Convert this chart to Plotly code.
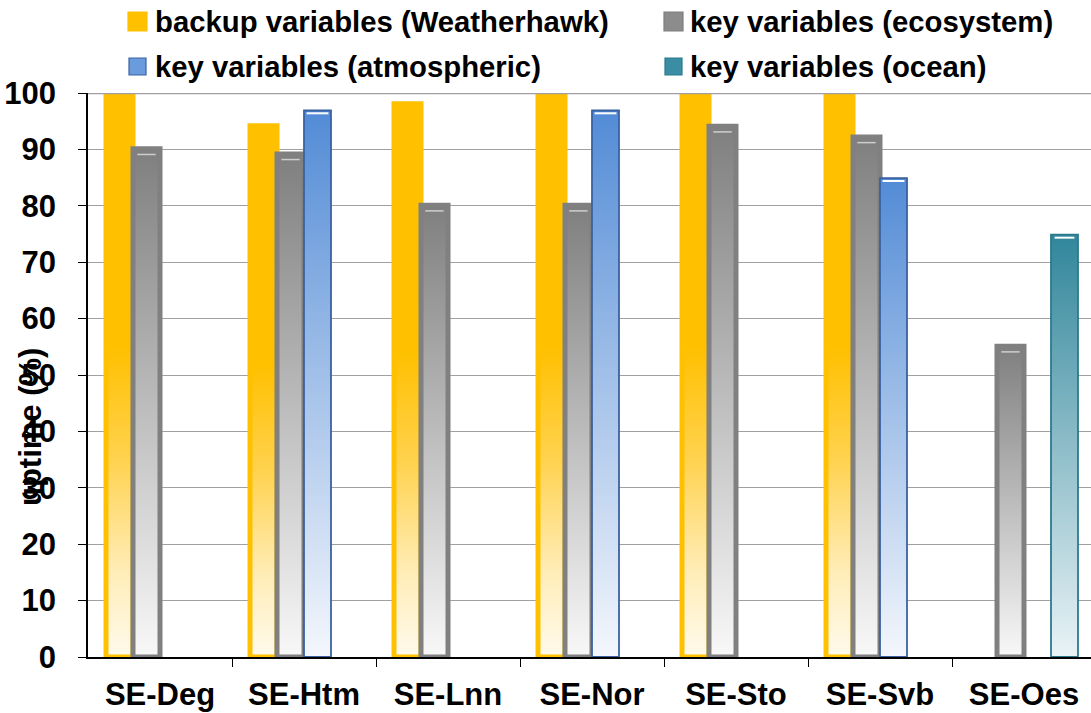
import plotly.graph_objects as go

# ---------------- data ----------------
categories = ["SE-Deg", "SE-Htm", "SE-Lnn", "SE-Nor", "SE-Sto", "SE-Svb", "SE-Oes"]
backup_weatherhawk = [100, 94.2, 98.1, 100, 100, 100, None]
key_ecosystem = [90.1, 89.2, 80.1, 80.1, 94.1, 92.2, 55.1]
key_atmospheric = [None, 96.9, None, 96.9, None, 84.9, None]
key_ocean = [None, None, None, None, None, None, 74.9]
series_names = ["backup variables (Weatherhawk)", "key variables (ecosystem)",
                "key variables (atmospheric)", "key variables (ocean)"]
y_ticks = [0, 10, 20, 30, 40, 50, 60, 70, 80, 90, 100]

# ---------------- styles ----------------
FONT = "Liberation Sans, Arial, sans-serif"
W, H = 1091, 713
ML, MT, MB = 88, 93, 56
PW, PH = W - ML, H - MT - MB
CAT_PX = 144.0
GAP = 18.0 / CAT_PX      # outer gap of a category (units)
BW = 27.0 / CAT_PX       # bar width (units)

styles = [
    dict(line="#FFC000", lw=5, scale=[[0, "#FFFAEC"], [0.15, "#FFEDB8"], [0.35, "#FFD24F"],
                                      [0.55, "#FFC000"], [1, "#FFC000"]], hl=None),
    dict(line="#808080", lw=5, scale=[[0, "#F8F8F8"], [1, "#7F7F7F"]],
         hl=dict(color="rgba(225,225,225,0.8)", dy=1.0, inset=0.03, w=1.5)),
    dict(line="#3A62A0", lw=1.8, scale=[[0, "#F4F7FC"], [1, "#528BD6"]],
         hl=dict(color="white", dy=0.5, inset=0.018, w=2)),
    dict(line="#2B7A8E", lw=1.8, scale=[[0, "#E9F3F6"], [1, "#31869B"]],
         hl=dict(color="white", dy=0.55, inset=0.025, w=2)),
]

all_series = [backup_weatherhawk, key_ecosystem, key_atmospheric, key_ocean]

fig = go.Figure()

for k, (vals, st, name) in enumerate(zip(all_series, styles, series_names)):
    for i, v in enumerate(vals):
        if v is None:
            continue
        x0 = i - 0.5 + GAP + k * BW
        x1 = x0 + BW
        fig.add_trace(go.Scatter(
            x=[x0, x0, x1, x1, x0], y=[0, v, v, 0, 0],
            mode="lines", fill="toself",
            line=dict(color=st["line"], width=st["lw"]),
            fillgradient=dict(type="vertical", colorscale=st["scale"], start=0, stop=v),
            name=name, legendgroup=name, showlegend=False,
            hovertemplate=f"{categories[i]}<br>{name}: {v}%<extra></extra>",
        ))
    hl = st["hl"]
    if hl:
        for i, v in enumerate(vals):
            if v is None or v >= 100:
                continue
            x0 = i - 0.5 + GAP + k * BW
            x1 = x0 + BW
            fig.add_trace(go.Scatter(
                x=[x0 + hl["inset"], x1 - hl["inset"]], y=[v - hl["dy"], v - hl["dy"]],
                mode="lines", line=dict(color=hl["color"], width=hl["w"]),
                showlegend=False, hoverinfo="skip",
            ))


def px_x(px):
    return (px - ML) / PW


def px_y(py):
    return (H - MB - py) / PH


shapes = []
annotations = []

# top border / 100 gridline
shapes.append(dict(type="line", xref="paper", yref="y", x0=0, x1=1, y0=100, y1=100,
                   line=dict(color="#A0A0A0", width=2.5), layer="above"))

# manual legend
legend_items = [
    (series_names[0], 128, 12, 147, 31, "#FFC000", "#FFC000", 153, 21),
    (series_names[1], 664, 12, 683, 31, "#8C8C8C", "#7F7F7F", 688, 21),
    (series_names[2], 129, 58, 146, 75, "#6A9BDC", "#3A62A0", 153, 66),
    (series_names[3], 665, 58, 682, 75, "#3A8DA2", "#2B7A8E", 688, 66),
]
for name, x0, y0, x1, y1, fc, lc, tx, ty in legend_items:
    shapes.append(dict(type="rect", xref="paper", yref="paper",
                       x0=px_x(x0), x1=px_x(x1), y0=px_y(y1), y1=px_y(y0),
                       fillcolor=fc, line=dict(color=lc, width=1.2)))
    annotations.append(dict(text=name, xref="paper", yref="paper",
                            x=px_x(tx), y=px_y(ty),
                            xanchor="left", yanchor="middle", showarrow=False,
                            font=dict(family=FONT, size=29.3, color="black", weight="bold")))

# y-axis title
annotations.append(dict(text="uptime (%)", xref="paper", yref="paper",
                        x=px_x(30), y=px_y(427), textangle=-90,
                        xanchor="center", yanchor="middle", showarrow=False,
                        font=dict(family=FONT, size=31, color="black", weight="bold")))

fig.update_layout(
    width=W, height=H,
    margin=dict(l=ML, r=0, t=MT, b=MB, pad=0),
    paper_bgcolor="white", plot_bgcolor="white",
    showlegend=False,
    shapes=shapes, annotations=annotations,
    xaxis=dict(
        range=[-0.5, -0.5 + PW / CAT_PX],
        tickmode="array", tickvals=list(range(len(categories))), ticktext=categories,
        ticks="", showgrid=False, zeroline=False,
        showline=True, linecolor="black", linewidth=1.5,
        tickfont=dict(family=FONT, size=31, color="black", weight="bold"),
        ticklabelstandoff=9,
        minor=dict(tickmode="array", tickvals=[i + 0.5 for i in range(len(categories) - 1)],
                   ticks="outside", ticklen=8, tickcolor="black", tickwidth=1.2, showgrid=False),
    ),
    yaxis=dict(
        range=[0, 100], tickmode="array", tickvals=y_ticks,
        ticks="outside", ticklen=8, tickcolor="black", tickwidth=1.2,
        showgrid=True, gridcolor="#A0A0A0", gridwidth=1,
        zeroline=False, showline=True, linecolor="black", linewidth=1.5,
        tickfont=dict(family=FONT, size=31, color="black", weight="bold"),
        ticklabelstandoff=16,
    ),
)

fig.write_html("out.html")
